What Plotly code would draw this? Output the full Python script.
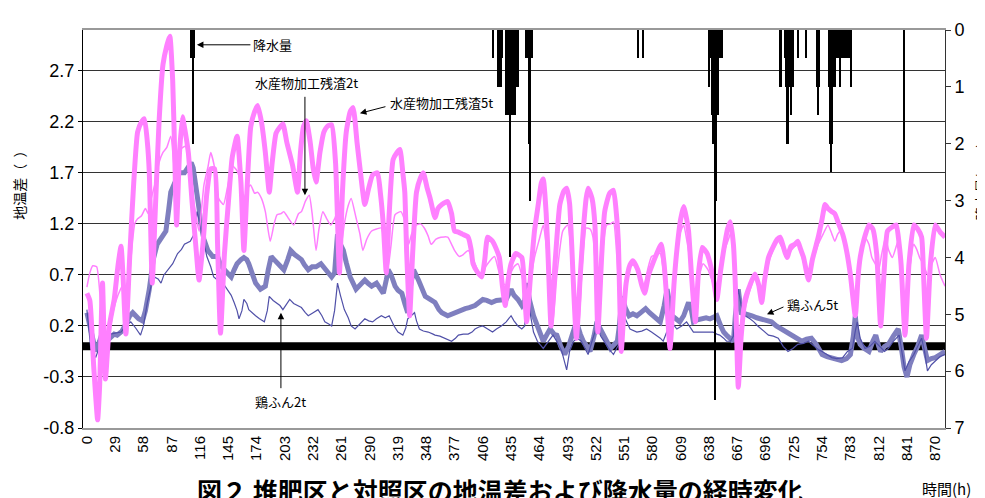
import plotly.graph_objects as go

# ---------------- data ----------------
x_ticks = list(range(0, 871, 29))
y_ticks = [-0.8, -0.3, 0.2, 0.7, 1.2, 1.7, 2.2, 2.7]
y2_ticks = [0, 1, 2, 3, 4, 5, 6, 7]

# 水産物加工残渣5t (thick pink)
s5_h = [0,3,7,11,13,16,19,23,28,32,35,37,40,44,48,52,56,59,62,64,67,70,74,78,82,85,88,90,92,95,98,100,104,108,112,115,119,123,127,131,134,137,141,145,149,154,158,161,164,168,172,175,179,183,187,190,194,198,201,205,211,216,219,222,225,229,232,235,239,243,247,251,255,259,262,266,270,273,277,280,285,289,293,298,301,304,307,310,314,318,321,324,326,328,331,334,338,342,345,349,352,357,360,364,370,374,377,381,385,391,394,396,401,405,408,411,416,420,423,426,429,432,435,440,446,449,451,455,459,463,466,468,471,473,476,480,485,489,492,495,497,502,506,509,512,514,518,521,524,528,531,536,540,543,545,548,551,553,557,560,565,569,572,576,579,584,589,592,594,598,602,605,609,612,615,617,620,624,627,631,636,642,646,650,653,657,660,663,665,668,671,675,680,685,689,692,695,699,704,708,711,715,718,722,726,729,732,735,740,744,750,754,757,760,764,767,771,775,779,783,788,791,793,797,802,806,810,814,818,821,826,830,833,835,839,843,848,852,856,858,861,865,870,875,880]
s5_v = [0.52,0.45,-0.2,-0.72,-0.4,0.62,-0.32,0.2,0.46,0.8,0.98,0.7,0.12,0.9,1.6,2.1,2.2,2.23,2.0,1.7,0.62,1.3,2.2,2.76,2.95,3.04,2.6,1.9,1.19,1.9,2.25,2.15,1.9,1.4,0.95,0.65,1.0,1.5,1.74,1.74,1.0,0.13,0.9,1.4,1.85,2.06,1.6,0.94,1.5,2.15,2.3,2.36,2.2,1.9,1.51,1.8,2.09,2.15,2.18,2.0,1.77,1.51,1.9,2.15,2.21,2.0,1.75,1.61,1.9,2.1,2.16,2.17,1.8,0.72,1.5,2.1,2.3,2.34,2.0,1.75,1.39,1.55,1.68,1.7,1.5,1.19,0.72,1.3,1.83,1.9,1.93,1.7,1.51,0.9,0.3,0.9,1.51,1.65,1.7,1.55,1.45,1.26,1.35,1.39,1.42,1.3,1.13,1.12,1.1,1.07,0.95,0.81,0.72,0.68,0.85,1.07,1.03,0.95,0.87,0.6,0.4,0.65,0.81,0.91,0.87,0.5,0.24,0.7,1.13,1.4,1.6,1.64,1.3,0.87,0.2,0.8,1.39,1.52,1.55,1.4,1.03,0.08,0.7,1.13,1.45,1.55,1.45,1.19,0.14,0.9,1.32,1.5,1.53,1.3,1.03,-0.05,0.4,0.62,0.8,0.84,0.75,0.6,0.52,0.7,0.78,0.9,1.0,0.8,0.55,-0.02,0.6,0.94,1.25,1.37,1.25,1.13,0.7,0.24,0.7,0.97,0.91,0.69,0.46,0.75,0.94,1.15,1.22,1.0,0.6,-0.4,0.1,0.46,0.6,0.71,0.6,0.43,0.65,0.87,0.98,1.05,1.07,0.95,0.87,0.98,1.0,1.03,0.95,0.87,0.65,0.85,1.07,1.25,1.39,1.35,1.32,1.3,1.2,1.1,0.94,0.7,0.3,0.7,0.87,1.05,1.19,1.15,0.9,0.2,0.8,1.13,1.17,1.19,1.0,0.8,0.11,0.8,1.19,1.15,1.07,0.7,0.08,0.8,1.19,1.12,1.07]

# 水産物加工残渣2t (thin pink)
s2_h = [0,3,6,10,13,16,19,22,26,30,34,37,40,43,46,49,52,56,60,63,66,70,74,78,82,86,89,91,94,96,101,106,110,115,120,124,127,131,135,140,145,149,154,158,161,165,168,172,175,179,183,188,192,195,199,202,207,212,217,220,224,228,231,235,238,242,246,250,254,257,261,264,268,271,276,280,283,287,292,297,302,305,309,312,316,322,327,330,333,338,342,346,350,353,358,363,370,374,377,382,386,391,395,398,404,407,411,418,422,426,430,433,438,442,447,451,455,459,464,468,471,474,478,482,488,493,496,499,504,508,512,516,519,522,524,528,533,537,540,544,548,551,555,560,564,568,571,575,579,584,588,591,594,598,602,607,612,615,618,621,624,628,632,637,642,647,651,654,658,661,664,668,671,675,680,685,689,692,696,699,704,709,714,719,724,729,734,740,745,750,755,760,764,767,770,773,777,780,784,788,792,798,802,805,809,812,815,819,822,826,830,833,836,839,843,848,851,854,858,863,866,870,875,880]
s2_v = [0.58,0.72,0.79,0.78,0.55,0.1,-0.2,0.0,0.3,0.45,0.55,0.6,0.35,0.6,0.95,1.2,1.25,1.28,1.35,1.3,1.45,1.6,1.8,1.9,1.95,2.06,1.8,1.51,1.8,1.93,1.96,1.77,1.4,1.13,1.58,1.75,1.9,1.75,1.45,1.39,1.6,1.77,1.72,1.6,1.45,1.55,1.58,1.5,1.51,1.45,1.32,1.03,1.2,1.29,1.3,1.32,1.25,1.19,1.3,1.32,1.42,1.48,1.3,0.94,1.15,1.32,1.25,1.19,1.25,1.32,1.0,1.2,1.38,1.45,1.26,1.1,0.94,1.05,1.13,1.15,1.16,1.0,0.78,1.0,1.29,1.32,1.2,1.0,1.1,1.19,1.2,1.16,1.08,1.0,1.05,1.07,1.07,1.0,0.94,0.88,0.9,0.94,0.88,0.81,0.68,0.75,0.81,0.88,0.75,0.62,0.6,0.68,0.78,0.81,0.65,0.4,0.65,0.87,1.05,1.19,1.0,0.7,0.24,0.7,1.13,1.19,1.0,0.6,0.14,0.8,1.16,1.15,1.07,0.7,0.3,0.85,1.19,1.2,1.22,0.8,0.11,0.5,0.75,0.8,0.78,0.68,0.59,0.75,0.88,0.9,0.91,0.75,0.49,0.11,0.7,1.07,1.19,1.05,0.87,0.6,0.37,0.7,0.81,0.75,0.62,0.49,0.8,0.94,1.05,1.13,0.8,0.08,0.25,0.37,0.55,0.68,0.6,0.46,0.65,0.81,0.95,1.03,0.95,0.91,0.96,1.0,0.85,0.68,0.85,1.0,1.1,1.19,1.1,1.03,1.1,1.13,1.0,0.87,0.65,0.4,0.8,1.07,1.0,0.87,0.8,0.75,0.9,1.07,0.95,0.87,0.98,1.07,0.7,0.3,0.7,1.0,0.95,0.87,0.8,0.68,0.8,0.87,0.7,0.59]

# 鶏ふん5t (thick blue)
c5_h = [0,4,9,13,16,20,24,28,31,36,41,44,47,50,53,57,60,64,68,72,76,81,84,86,90,94,100,103,107,109,112,115,117,120,124,129,134,137,141,145,148,151,154,158,161,164,166,170,173,178,183,186,189,192,196,202,206,209,213,216,220,223,227,231,235,240,245,251,254,257,260,263,266,270,276,280,285,288,292,297,300,304,307,309,312,316,319,323,326,329,332,335,340,344,347,352,357,361,364,370,377,382,388,392,398,402,406,410,415,420,425,430,435,438,442,446,449,451,454,458,462,466,468,472,475,479,482,486,490,494,497,502,506,509,513,516,520,523,526,530,534,537,541,544,546,549,552,556,560,564,568,573,577,581,585,588,592,595,598,600,604,608,612,617,620,622,626,631,635,639,643,646,650,653,657,660,663,665,668,671,676,682,687,692,697,702,707,712,718,723,728,733,738,743,748,754,759,764,769,774,779,783,786,788,790,793,797,802,806,809,812,814,818,822,827,832,835,838,841,844,848,852,856,859,862,866,870,875,880]
c5_v = [0.33,0.15,-0.05,0.05,0.14,0.05,0.08,0.12,0.11,0.15,0.24,0.3,0.33,0.3,0.27,0.25,0.35,0.56,0.85,1.0,1.05,1.13,1.35,1.51,1.6,1.7,1.7,1.75,1.8,1.75,1.58,1.35,1.19,1.05,0.94,0.88,0.88,0.8,0.75,0.7,0.68,0.75,0.81,0.85,0.87,0.85,0.81,0.7,0.62,0.56,0.59,0.75,0.88,0.85,0.81,0.75,0.85,0.94,0.9,0.88,0.85,0.8,0.75,0.78,0.78,0.81,0.75,0.68,0.72,1.1,1.0,0.94,0.82,0.68,0.56,0.6,0.65,0.62,0.59,0.62,0.58,0.52,0.65,0.75,0.7,0.59,0.55,0.52,0.42,0.33,0.6,0.75,0.65,0.55,0.49,0.46,0.43,0.36,0.33,0.3,0.33,0.35,0.37,0.38,0.4,0.43,0.46,0.45,0.43,0.45,0.46,0.46,0.56,0.5,0.46,0.4,0.45,0.62,0.45,0.3,0.2,0.08,0.05,0.12,0.17,0.12,0.11,0.0,-0.08,0.0,0.08,0.24,0.12,0.05,0.0,-0.05,0.1,0.24,0.18,0.11,0.05,-0.02,0.02,0.05,0.2,0.49,0.38,0.3,0.32,0.3,0.33,0.37,0.33,0.3,0.27,0.24,0.4,0.56,0.4,0.3,0.27,0.24,0.3,0.43,0.35,0.24,0.26,0.27,0.28,0.27,0.28,0.3,0.2,0.14,0.1,0.08,0.05,0.3,0.56,0.33,0.32,0.3,0.28,0.27,0.25,0.24,0.2,0.17,0.13,0.11,0.08,0.05,0.07,0.08,0.02,-0.08,-0.1,-0.11,-0.12,-0.14,-0.12,-0.08,0.1,0.3,0.1,0.02,-0.02,-0.05,0.05,0.11,0.0,-0.05,0.0,0.02,0.1,0.17,0.0,-0.2,-0.3,-0.18,-0.08,0.0,0.11,0.0,-0.14,-0.12,-0.11,-0.08,-0.05]

# 鶏ふん2t (thin blue)
c2_h = [0,4,9,13,16,20,24,30,35,40,45,50,55,58,62,66,69,73,76,79,83,88,93,97,100,106,110,113,116,119,123,127,130,134,137,141,144,148,151,154,156,159,161,164,166,170,173,177,182,185,187,191,194,198,201,204,208,212,216,220,224,227,232,237,241,244,248,251,254,257,260,264,268,271,275,280,285,289,293,297,302,306,310,315,319,324,327,329,333,336,338,341,345,350,355,357,362,367,371,374,378,381,386,391,395,398,402,406,411,416,420,425,430,435,438,442,446,449,452,455,458,462,468,473,478,483,487,492,495,499,503,507,511,514,518,523,527,530,535,540,544,547,550,553,557,561,564,569,574,579,584,588,591,595,598,601,605,610,615,619,622,627,632,637,642,646,649,653,656,660,663,665,668,671,675,680,684,688,692,696,699,704,709,714,719,724,729,735,740,746,750,754,759,764,769,775,780,785,788,790,793,798,803,808,813,818,822,827,833,836,839,843,848,852,856,859,862,866,870,875,880]
c2_v = [0.36,-0.02,-0.11,0.0,0.05,0.1,0.12,0.13,0.14,0.2,0.24,0.18,0.11,0.2,0.43,0.6,0.68,0.66,0.62,0.7,0.75,0.81,0.91,0.95,1.0,1.03,1.1,1.32,1.2,1.07,0.88,0.78,0.68,0.65,0.62,0.6,0.56,0.5,0.43,0.35,0.27,0.35,0.46,0.42,0.36,0.32,0.3,0.27,0.24,0.35,0.49,0.45,0.43,0.4,0.36,0.4,0.46,0.42,0.4,0.38,0.33,0.3,0.33,0.36,0.3,0.24,0.22,0.2,0.35,0.62,0.5,0.36,0.28,0.2,0.17,0.22,0.27,0.25,0.24,0.27,0.3,0.28,0.3,0.2,0.14,0.11,0.18,0.27,0.3,0.33,0.25,0.17,0.15,0.14,0.12,0.11,0.1,0.08,0.06,0.05,0.08,0.11,0.12,0.12,0.14,0.17,0.19,0.2,0.17,0.14,0.17,0.2,0.24,0.3,0.25,0.2,0.17,0.2,0.62,0.3,0.14,0.05,-0.02,0.05,0.11,0.03,-0.05,-0.23,-0.05,0.05,0.08,0.05,-0.03,-0.08,0.05,0.2,0.1,0.05,-0.02,-0.08,0.0,0.05,0.33,0.25,0.17,0.15,0.14,0.15,0.17,0.14,0.11,0.08,0.05,0.15,0.3,0.22,0.17,0.2,0.24,0.18,0.14,0.14,0.14,0.14,0.14,0.12,0.11,0.08,0.05,0.05,0.1,0.35,0.56,0.4,0.3,0.27,0.24,0.2,0.17,0.14,0.11,0.1,0.08,0.0,-0.05,-0.02,0.02,0.03,0.05,0.0,-0.03,-0.05,-0.08,-0.11,-0.12,-0.11,-0.05,-0.02,0.15,0.24,0.08,-0.02,0.0,0.05,0.0,-0.05,-0.02,0.05,0.11,-0.05,-0.24,-0.15,-0.08,0.0,0.08,-0.05,-0.24,-0.18,-0.14,-0.1,-0.08]

# 対照区 baseline (difference = 0)
base_h = [-4, 880]
base_v = [0, 0]

# 降水量 (mm)
rain_h = [107,108,109,110,
          416,422,423,425,426,430,431,432,433,434,435,436,437,438,439,440,442,450,451,453,454,456,
          565,570,
          638,640,641,642,643,644,645,646,647,649,651,
          711,712,716,717,718,719,720,721,722,723,724,729,737,749,750,751,
          761,762,763,764,765,766,767,768,769,770,771,772,773,774,775,776,777,778,779,780,781,782,783,784,
          838]
rain_mm = [0.5,0.5,2.0,0.5,
           0.5,1.0,1.0,1.0,0.5,1.5,1.5,1.5,1.5,4.0,1.5,1.5,1.5,1.5,1.5,1.0,1.0,0.5,0.5,2.0,3.0,0.5,
           0.5,0.5,
           1.0,0.5,1.5,2.0,2.0,6.5,3.0,1.5,1.5,0.5,0.5,
           1.0,1.0,0.5,1.0,2.0,2.0,1.0,1.0,1.5,0.5,1.0,0.5,0.5,1.0,1.5,1.0,
           1.0,2.0,2.5,2.0,1.0,1.0,1.0,0.5,0.5,0.5,0.5,1.0,0.5,0.5,0.5,0.5,0.5,0.5,0.5,0.5,0.5,0.5,0.5,1.0,
           2.5]

# ---------------- figure ----------------
FONT = "Arial, 'Liberation Sans', 'Noto Sans CJK JP', sans-serif"
JFONT = "'Noto Sans CJK JP', 'Liberation Sans', sans-serif"
PINK = "#FF80FF"
BLUE = "#7F7FBF"
NAVY = "#5050A8"

fig = go.Figure()
fig.add_trace(go.Scatter(x=base_h, y=base_v, mode="lines",
                         line=dict(color="black", width=8), hoverinfo="skip", showlegend=False))
fig.add_trace(go.Scatter(x=c5_h, y=c5_v, mode="lines", name="鶏ふん5t",
                         line=dict(color=BLUE, width=5), showlegend=False))
fig.add_trace(go.Scatter(x=c2_h, y=c2_v, mode="lines", name="鶏ふん2t",
                         line=dict(color=NAVY, width=1.2), showlegend=False))
fig.add_trace(go.Scatter(x=s2_h, y=s2_v, mode="lines", name="水産物加工残渣2t",
                         line=dict(color=PINK, width=1.5, shape="spline", smoothing=0.5),
                         showlegend=False))
fig.add_trace(go.Scatter(x=s5_h, y=s5_v, mode="lines", name="水産物加工残渣5t",
                         line=dict(color=PINK, width=5, shape="spline", smoothing=0.5),
                         showlegend=False))
fig.add_trace(go.Bar(x=rain_h, y=rain_mm, yaxis="y2", width=1.0, name="降水量",
                     marker=dict(color="black", line=dict(width=0)), showlegend=False))

# page body has an 8px margin, so the figure is 8px smaller and margins shifted
fig.update_layout(
    width=977, height=490,
    margin=dict(l=75, r=40, t=13, b=70),
    paper_bgcolor="white", plot_bgcolor="white",
    font=dict(family=FONT, color="black"),
    bargap=0,
    xaxis=dict(range=[-4, 880], tickvals=x_ticks, ticktext=[str(t) for t in x_ticks],
               tickangle=-90, tickfont=dict(size=15), showgrid=False, zeroline=False,
               showline=True, linecolor="#999999", linewidth=2, mirror=True, ticks=""),
    yaxis=dict(range=[-0.8, 3.1], tickvals=y_ticks, ticktext=[f"{t:.1f}" for t in y_ticks],
               tickfont=dict(size=18), showgrid=True, gridcolor="#333333", gridwidth=1,
               zeroline=False, showline=True, linecolor="black", linewidth=1,
               ticks="outside", ticklen=4, tickcolor="black"),
    yaxis2=dict(overlaying="y", side="right", range=[7, 0], tickvals=y2_ticks,
                tickfont=dict(size=18), showgrid=False, zeroline=False,
                showline=True, linecolor="#333333", linewidth=1,
                ticks="outside", ticklen=5, tickcolor="#333333"),
)

ann = []
cm = dict(xanchor="center", yanchor="middle", showarrow=False)
# axis titles
ann.append(dict(text="地温差（  ）", xref="paper", yref="paper", x=-0.0742, y=0.619,
                textangle=-90, font=dict(family=JFONT, size=14), **cm))
ann.append(dict(text="降水量(mm)", xref="paper", yref="paper", x=1.0418, y=0.617,
                textangle=-90, font=dict(family=JFONT, size=14), **cm))
ann.append(dict(text="時間(h)", xref="paper", yref="paper", x=(946 - 83) / 862, y=-0.152,
                font=dict(family=JFONT, size=15), **cm))
ann.append(dict(text="<b>図２ 堆肥区と対照区の地温差および降水量の経時変化</b>", xref="paper", yref="paper",
                x=0.4838, y=-0.155, font=dict(family=JFONT, size=25), **cm))

# series labels
lab = dict(font=dict(family=JFONT, size=13), xref="x", yref="y", **cm)
ann.append(dict(text="降水量", x=(273 - 87) / 0.975, y=2.955, **lab))
ann.append(dict(text="水産物加工残渣2t", x=(307 - 87) / 0.975, y=2.59, **lab))
ann.append(dict(text="水産物加工残渣5t", x=(442 - 87) / 0.975, y=2.39, **lab))
ann.append(dict(text="鶏ふん2t", x=(281 - 87) / 0.975, y=-0.54, **lab))
ann.append(dict(text="鶏ふん5t", x=(813 - 87) / 0.975, y=0.407, **lab))

# arrows
arr = dict(text="", showarrow=True, arrowhead=2, arrowsize=1.3, arrowwidth=1,
           arrowcolor="black", xref="x", yref="y", axref="pixel", ayref="pixel")
ann.append(dict(x=(197 - 87) / 0.975, y=2.955, ax=55, ay=0, **arr))
ann.append(dict(x=(305 - 87) / 0.975, y=1.48, ax=0, ay=-100, **arr))
ann.append(dict(x=(360 - 87) / 0.975, y=2.284, ax=27, ay=-7, **arr))
ann.append(dict(x=(281 - 87) / 0.975, y=0.33, ax=0, ay=77, **arr))
ann.append(dict(x=(767 - 87) / 0.975, y=0.314, ax=18, ay=-8, **arr))

fig.update_layout(annotations=ann)
fig.write_html("out.html")
